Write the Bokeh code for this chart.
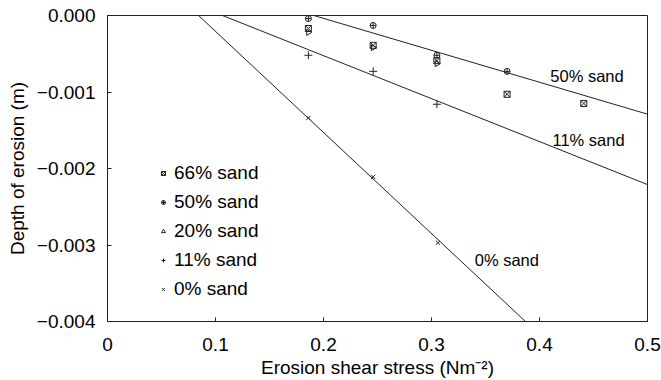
from bokeh.plotting import figure
from bokeh.models import Range1d, CustomJSTickFormatter, FixedTicker, Legend, LegendItem
from bokeh.core.properties import value
from bokeh.embed import file_html
from bokeh.resources import INLINE
import math

# Measured points (shear stress, depth)
x66 = [0.186, 0.246, 0.305, 0.370, 0.441]
y66 = [-0.00017, -0.00039, -0.00059, -0.00103, -0.00115]
x50 = [0.186, 0.246, 0.305, 0.370]
y50 = [-0.00004, -0.00013, -0.00052, -0.00073]
x20 = [0.186, 0.246, 0.305]
y20 = [-0.00022, -0.00042, -0.00063]
x11 = [0.186, 0.246, 0.305]
y11 = [-0.00052, -0.00073, -0.00116]
x0 = [0.186, 0.246, 0.306]
y0 = [-0.00134, -0.00211, -0.00297]

# Fitted lines (end points)
fit50_x = [0.191, 0.5]
fit50_y = [0.0, -0.00129]
fit11_x = [0.1065, 0.5]
fit11_y = [0.0, -0.00221]
fit0_x = [0.0843, 0.387]
fit0_y = [0.0, -0.004]

line_labels = ["50% sand", "11% sand", "0% sand"]
label_x = [0.410, 0.412, 0.340]
label_y = [-0.000795, -0.00163, -0.00319]

x_ticks = [0, 0.1, 0.2, 0.3, 0.4, 0.5]
y_ticks = [0, -0.001, -0.002, -0.003, -0.004]

FONT = "Liberation Sans"

p = figure(width=661, height=380, output_backend="svg", toolbar_location=None,
           x_range=Range1d(0, 0.5), y_range=Range1d(-0.004, 0))
p.min_border_left = 107
p.min_border_right = 14
p.min_border_top = 15
p.min_border_bottom = 58
p.xgrid.visible = False
p.ygrid.visible = False
p.outline_line_color = "#222222"
p.outline_line_width = 1

for ax in (p.xaxis[0], p.yaxis[0]):
    ax.major_tick_in = 4
    ax.major_tick_out = 0
    ax.minor_tick_in = 0
    ax.minor_tick_out = 0
    ax.axis_line_color = "#222222"
    ax.major_tick_line_color = "#222222"
    ax.major_label_text_font = FONT
    ax.major_label_text_font_size = "19px"
    ax.major_label_text_color = "black"
    ax.axis_label_text_font = FONT
    ax.axis_label_text_font_size = "19px"
    ax.axis_label_text_font_style = "normal"
    ax.axis_label_text_color = "black"

p.xaxis[0].ticker = FixedTicker(ticks=x_ticks)
p.yaxis[0].ticker = FixedTicker(ticks=y_ticks)
p.xaxis[0].formatter = CustomJSTickFormatter(code="return Math.abs(tick) < 1e-9 ? '0' : tick.toFixed(1);")
p.yaxis[0].formatter = CustomJSTickFormatter(code="var s = Math.abs(tick) < 1e-9 ? '0.000' : tick.toFixed(3); return s.replace('-', '\u2212');")
p.xaxis[0].axis_label = "Erosion shear stress (Nm\u207b\u00b2)"
p.yaxis[0].axis_label = "Depth of erosion (m)"
p.xaxis[0].major_label_standoff = 16
p.yaxis[0].major_label_standoff = 12
p.xaxis[0].axis_label_standoff = 3
p.yaxis[0].axis_label_standoff = 6

lc = "#222222"
p.line(fit50_x, fit50_y, line_color=lc, line_width=1)
p.line(fit11_x, fit11_y, line_color=lc, line_width=1)
p.line(fit0_x, fit0_y, line_color=lc, line_width=1)

ms = 6
mc = "#222222"
r66 = p.scatter(x66, y66, marker="square_x", size=ms, line_color=mc, fill_color=None, line_width=1)
r50 = p.scatter(x50, y50, marker="circle_cross", size=ms, line_color=mc, fill_color=None, line_width=1)
r20 = p.scatter(x20, y20, marker="triangle", size=ms, angle=-math.pi / 2, line_color=mc, fill_color=None, line_width=1)
r11 = p.scatter(x11, y11, marker="cross", size=ms + 2, line_color=mc, line_width=1)
r0 = p.scatter(x0, y0, marker="x", size=ms, line_color=mc, line_width=1)

p.text(label_x, label_y, text=line_labels, text_font=value(FONT), text_font_size="16.5px",
       text_baseline="middle", text_align="left", text_color="black")

legend = Legend(items=[
    LegendItem(label="66% sand", renderers=[r66]),
    LegendItem(label="50% sand", renderers=[r50]),
    LegendItem(label="20% sand", renderers=[r20]),
    LegendItem(label="11% sand", renderers=[r11]),
    LegendItem(label="0% sand", renderers=[r0]),
], location=(51, 21))
legend.border_line_color = None
legend.background_fill_alpha = 0
legend.label_text_font = FONT
legend.label_text_font_size = "19px"
legend.label_text_color = "black"
legend.glyph_width = 10
legend.glyph_height = 22
legend.label_height = 22
legend.spacing = 7
legend.label_standoff = 6
legend.padding = 0
legend.margin = 0
p.add_layout(legend)

open("out.html", "w").write(file_html(p, INLINE))
